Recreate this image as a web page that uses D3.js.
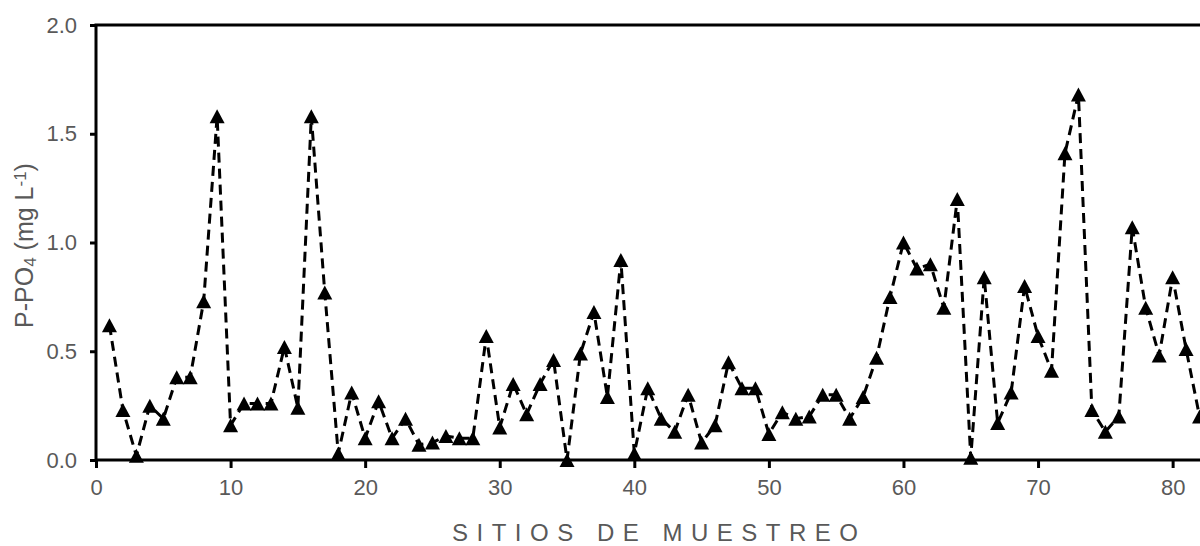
<!DOCTYPE html>
<html>
<head>
<meta charset="utf-8">
<script src="https://cdn.jsdelivr.net/npm/d3@7"></script>
<style>
  html, body { margin: 0; padding: 0; background: #fff; }
  svg { display: block; }
</style>
</head>
<body>
<svg id="chart" width="1200" height="546"></svg>
<script>
// Sampling sites (x) and phosphate concentration P-PO4 in mg/L (y)
const sites = [1,2,3,4,5,6,7,8,9,10,11,12,13,14,15,16,17,18,19,20,
  21,22,23,24,25,26,27,28,29,30,31,32,33,34,35,36,37,38,39,40,
  41,42,43,44,45,46,47,48,49,50,51,52,53,54,55,56,57,58,59,60,
  61,62,63,64,65,66,67,68,69,70,71,72,73,74,75,76,77,78,79,80,81,82];
const pPO4 = [0.62,0.23,0.02,0.25,0.19,0.38,0.38,0.73,1.58,0.16,
  0.26,0.26,0.26,0.52,0.24,1.58,0.77,0.03,0.31,0.10,
  0.27,0.10,0.19,0.07,0.08,0.11,0.10,0.10,0.57,0.15,
  0.35,0.21,0.35,0.46,0.00,0.49,0.68,0.29,0.92,0.03,
  0.33,0.19,0.13,0.30,0.08,0.16,0.45,0.33,0.33,0.12,
  0.22,0.19,0.20,0.30,0.30,0.19,0.29,0.47,0.75,1.00,
  0.88,0.90,0.70,1.20,0.01,0.84,0.17,0.31,0.80,0.57,
  0.41,1.41,1.68,0.23,0.13,0.20,1.07,0.70,0.48,0.84,0.51,0.20];
const xTicks = [0,10,20,30,40,50,60,70,80];
const yTicks = [0,0.5,1.0,1.5,2.0];
const xDomain = [0, 83];
const yDomain = [0, 2];

(function draw() {
  const svg = d3.select("#chart");
  const mLeft = 96, mRight = 1213, mTop = 25, mBottom = 460;
  const grey = "#595959";
  const font = "'Liberation Sans', Arial, sans-serif";

  const x = d3.scaleLinear().domain(xDomain).range([mLeft, mRight]);
  const y = d3.scaleLinear().domain(yDomain).range([mBottom, mTop]);

  // Plot frame
  svg.append("rect")
    .attr("x", mLeft).attr("y", mTop)
    .attr("width", mRight - mLeft).attr("height", mBottom - mTop)
    .attr("fill", "none").attr("stroke", "#000").attr("stroke-width", 3);

  // Y axis
  const yAxis = svg.append("g")
    .attr("transform", `translate(${mLeft},0)`)
    .call(d3.axisLeft(y).tickValues(yTicks).tickFormat(d3.format(".1f")).tickSize(6).tickPadding(13));
  yAxis.select(".domain").remove();
  yAxis.selectAll(".tick line").attr("stroke", "#000").attr("stroke-width", 3);
  yAxis.selectAll(".tick text")
    .attr("fill", grey)
    .style("font-family", font)
    .style("font-size", "22px");

  // X axis
  const xAxis = svg.append("g")
    .attr("transform", `translate(0,${mBottom})`)
    .call(d3.axisBottom(x).tickValues(xTicks).tickFormat(d3.format("d")).tickSize(8).tickPadding(11));
  xAxis.select(".domain").remove();
  xAxis.selectAll(".tick line").attr("stroke", "#000").attr("stroke-width", 3);
  xAxis.selectAll(".tick text")
    .attr("fill", grey)
    .style("font-family", font)
    .style("font-size", "22px");

  // Dashed connecting line
  const line = d3.line().x((d, i) => x(sites[i])).y(d => y(d));
  svg.append("path")
    .datum(pPO4)
    .attr("d", line)
    .attr("fill", "none")
    .attr("stroke", "#000")
    .attr("stroke-width", 3)
    .attr("stroke-dasharray", "10,6");

  // Triangle markers
  const tri = "M0,-7L7.5,7L-7.5,7Z";
  svg.append("g").selectAll("path")
    .data(pPO4)
    .join("path")
    .attr("d", tri)
    .attr("transform", (d, i) => `translate(${x(sites[i])},${y(d)})`)
    .attr("fill", "#000");

  // Axis titles
  svg.append("text")
    .attr("x", 452).attr("y", 541)
    .attr("textLength", 406).attr("lengthAdjust", "spacing")
    .attr("fill", grey)
    .style("font-family", font)
    .style("font-size", "24px")
    .text("SITIOS  DE  MUESTREO");

  const yt = svg.append("text")
    .attr("transform", `translate(33,${(mTop + mBottom) / 2 + 3}) rotate(-90)`)
    .attr("text-anchor", "middle")
    .attr("fill", grey)
    .style("font-family", font)
    .style("font-size", "25px");
  yt.append("tspan").text("P-PO");
  yt.append("tspan").attr("baseline-shift", "-15%").style("font-size", "17px").text("4");
  yt.append("tspan").text(" (mg L");
  yt.append("tspan").attr("baseline-shift", "40%").style("font-size", "17px").text("-1");
  yt.append("tspan").text(")");
})();
</script>
</body>
</html>
